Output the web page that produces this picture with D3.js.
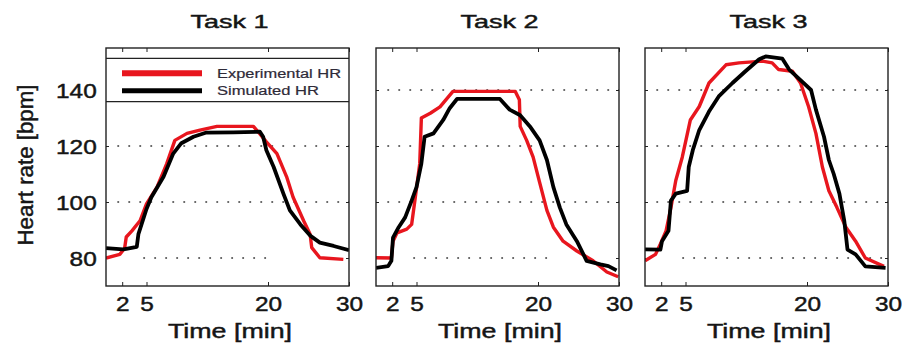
<!DOCTYPE html>
<html>
<head>
<meta charset="utf-8">
<script src="https://cdn.jsdelivr.net/npm/d3@7/dist/d3.min.js"></script>
<style>
  body { margin: 0; background: #fff; }
  text { font-family: "Liberation Sans", Arial, sans-serif; fill: #151515; stroke: #151515; stroke-width: 0.45px; }
  text.legend { stroke-width: 0.2px; }
</style>
</head>
<body>
<svg id="chart" width="905" height="347"></svg>
<script>
// chart data: [time in min, heart rate in bpm]
const tasks = ['Task 1', 'Task 2', 'Task 3'];
const xTicks = [2, 5, 20, 30];
const yTicks = [80, 100, 120, 140];
const seriesNames = ['Experimental HR', 'Simulated HR'];

const task1Exp = [[0,80],[1.7,81.3],[2.3,83.5],[2.5,87.5],[3.2,89.7],[4.2,93.3],[5,99.3],[6.3,105.3],[7.5,113.7],[8.5,122],[10,124.5],[11.6,125.7],[13.7,127],[18.2,127],[18.8,125],[19.8,121.5],[21.1,117.3],[22.3,109],[23.1,101.7],[24.4,93.3],[25.2,88.5],[25.4,83.7],[26.4,80.1],[29.3,79.5]];
const task1Sim = [[0,83.5],[2.1,83.1],[2.5,83.3],[3.8,84],[4,88.5],[5,97.5],[5.6,101.7],[7.1,109],[8.3,117.3],[9.3,121],[10.8,123.3],[12.4,124.8],[15.7,124.9],[19,125.1],[19.4,123.3],[19.8,118.5],[20.7,112.5],[21.9,103],[22.7,97],[24,92],[25.2,88],[26.4,85.5],[28.1,84.3],[30,82.8]];

const task2Exp = [[0,80.1],[1.9,80],[2.1,86],[2.6,89],[3.8,90.3],[4.4,92],[4.8,100.5],[5.4,113.7],[5.6,130],[6.7,131.7],[7.9,134],[9.5,139.5],[17.2,139.5],[17.7,136.5],[17.8,127],[18.6,122],[19.4,116],[20.2,107],[21.1,97],[21.9,91],[23.1,86],[24.8,82.5],[26.8,79],[28.5,75],[29.9,73.3]];
const task2Sim = [[0,76.5],[1.5,77.1],[1.9,79],[2.1,87.3],[2.8,91],[3.6,94.5],[4.4,100.5],[5,105.3],[5.6,113.7],[6,123.3],[7.1,124.5],[8.3,129.3],[9.1,133.5],[10,136.8],[15.3,136.8],[16.5,133],[17.8,131],[19,127],[20.2,122],[21.1,115],[21.9,105.3],[22.7,98],[23.5,92],[24.8,86],[26,79],[27.7,77.7],[28.7,77.1],[29.7,75.6]];

const task3Exp = [[0,79],[1.3,81.3],[1.9,85],[2.6,89.7],[3.2,98],[3.8,107.7],[4.6,116],[5.6,129.3],[6.7,134.1],[7.9,142.5],[10,149],[11.6,149.7],[14.5,150.3],[15.7,149.7],[16.5,147.3],[18.2,146.7],[19.2,142.5],[20.2,134],[21.1,124.5],[21.9,112.5],[22.7,104],[23.7,98],[24.8,91],[26,86],[27.2,80],[29.5,77]];
const task3Sim = [[0,83.1],[1.9,83],[2.1,86],[2.9,89.7],[3.2,100.5],[3.8,103],[5.2,104],[5.4,112.5],[5.9,118.5],[6.7,125.7],[7.9,132.3],[9.1,137.7],[10.8,142.5],[12.4,146.7],[14.1,151],[14.9,152],[16.96,151.2],[17.8,147.3],[19.4,143],[20.5,140],[21.1,133],[22.1,123.3],[22.7,115],[23.3,110],[24,103],[24.6,93.3],[25,83],[26,81.3],[27.2,77],[29.7,76.5]];

// the 80 bpm grid line is only partly drawn in the original
const grid80Span = [[4.6, 20.5], [4.6, 21.9], [4.6, 30]];

const experimental = [task1Exp, task2Exp, task3Exp];
const simulated = [task1Sim, task2Sim, task3Sim];

const colors = { exp: '#e8161e', sim: '#000' };
const panelLeft = [106, 376, 645];
const panelW = 243;
const plotTop = 48, plotBottom = 286;

const svg = d3.select('#chart');

const x = d3.scaleLinear().domain([0, 30]).range([0, panelW]);
const y = d3.scaleLinear().domain([70, 155]).range([plotBottom, plotTop]);

const line = d3.line().x(d => x(d[0])).y(d => y(d[1]));

function fit(sel, w) {
    return sel.attr('textLength', w).attr('lengthAdjust', 'spacingAndGlyphs');
}

tasks.forEach((task, i) => {
    const g = svg.append('g').attr('transform', 'translate(' + panelLeft[i] + ',0)');

    g.append('clipPath').attr('id', 'clip' + i)
        .append('rect').attr('x', 0).attr('y', plotTop).attr('width', panelW).attr('height', plotBottom - plotTop);

    // dotted grid
    yTicks.forEach(v => {
        const span = v === 80 ? grid80Span[i] : [1.4, 30];
        g.append('line')
            .attr('x1', x(span[0])).attr('x2', x(span[1]))
            .attr('y1', y(v)).attr('y2', y(v))
            .attr('stroke', '#3a3a3a')
            .attr('stroke-width', 1.6)
            .attr('stroke-dasharray', '1.8,9.2');
    });

    // axes with inward ticks
    const xa = g.append('g').attr('transform', 'translate(0,' + plotBottom + ')')
        .call(d3.axisBottom(x).tickValues(xTicks).tickSizeInner(-4).tickSizeOuter(0).tickPadding(11));
    xa.select('.domain').remove();
    xa.selectAll('text').attr('font-size', 20).attr('fill', '#151515')
        .attr('font-family', '"Liberation Sans", Arial, sans-serif')
        .attr('transform', 'scale(1.22,1)');
    xa.selectAll('line').attr('stroke', '#222');

    const xt = g.append('g').attr('transform', 'translate(0,' + plotTop + ')')
        .call(d3.axisTop(x).tickValues(xTicks).tickSizeInner(-4).tickSizeOuter(0).tickFormat(''));
    xt.select('.domain').remove();
    xt.selectAll('line').attr('stroke', '#222');

    const ya = g.append('g')
        .call(d3.axisLeft(y).tickValues(yTicks).tickSizeInner(-3).tickSizeOuter(0).tickPadding(0));
    ya.select('.domain').remove();
    ya.selectAll('line').attr('stroke', '#222');
    if (i === 0) {
        ya.selectAll('text').attr('font-size', 20).attr('fill', '#151515')
            .attr('font-family', '"Liberation Sans", Arial, sans-serif')
            .attr('x', -9.3 / 1.22).attr('dy', '0.36em')
            .attr('transform', 'scale(1.22,1)');
    } else {
        ya.selectAll('text').remove();
    }

    const yr = g.append('g').attr('transform', 'translate(' + panelW + ',0)')
        .call(d3.axisRight(y).tickValues(yTicks).tickSizeInner(-3).tickSizeOuter(0).tickFormat(''));
    yr.select('.domain').remove();
    yr.selectAll('line').attr('stroke', '#222');

    // curves
    const plot = g.append('g').attr('clip-path', 'url(#clip' + i + ')');
    plot.append('path').datum(experimental[i])
        .attr('d', line).attr('fill', 'none')
        .attr('stroke', colors.exp).attr('stroke-width', 3.4)
        .attr('stroke-linejoin', 'round');
    plot.append('path').datum(simulated[i])
        .attr('d', line).attr('fill', 'none')
        .attr('stroke', colors.sim).attr('stroke-width', 3.8)
        .attr('stroke-linejoin', 'round');

    // legend in first panel
    if (i === 0) {
        const lg = g.append('g');
        lg.append('rect').attr('x', 0).attr('y', 58.3).attr('width', panelW).attr('height', 43.4)
            .attr('fill', '#fff');
        [58.3, 101.7].forEach(yy => {
            lg.append('line').attr('x1', 0).attr('x2', panelW).attr('y1', yy).attr('y2', yy)
                .attr('stroke', '#222').attr('stroke-width', 1.3);
        });
        const rows = [
            { name: seriesNames[0], color: colors.exp, w: 6, ly: 73.3, ty: 77.5, tl: 124 },
            { name: seriesNames[1], color: colors.sim, w: 5, ly: 90.7, ty: 95, tl: 102 }
        ];
        rows.forEach(r => {
            lg.append('line').attr('x1', 16).attr('x2', 96).attr('y1', r.ly).attr('y2', r.ly)
                .attr('stroke', r.color).attr('stroke-width', r.w);
            fit(lg.append('text').attr('class', 'legend').attr('x', 111).attr('y', r.ty)
                .attr('font-size', 12.5).style('fill', '#2e2a38').style('stroke', '#2e2a38').text(r.name), r.tl);
        });
    }

    // frame
    g.append('rect').attr('x', 0).attr('y', plotTop).attr('width', panelW).attr('height', plotBottom - plotTop)
        .attr('fill', 'none').attr('stroke', '#222').attr('stroke-width', 1.4);

    // title and x label
    fit(g.append('text').attr('x', panelW / 2 + 2).attr('y', 28)
        .attr('text-anchor', 'middle').attr('font-size', 19).text(task), 78);
    fit(g.append('text').attr('x', panelW / 2 + 2.5).attr('y', 338)
        .attr('text-anchor', 'middle').attr('font-size', 20).text('Time [min]'), 124);
});

// y label
fit(svg.append('text')
    .attr('transform', 'translate(33,165) rotate(-90)')
    .attr('text-anchor', 'middle').attr('font-size', 21.5)
    .text('Heart rate [bpm]'), 161);
</script>
</body>
</html>
